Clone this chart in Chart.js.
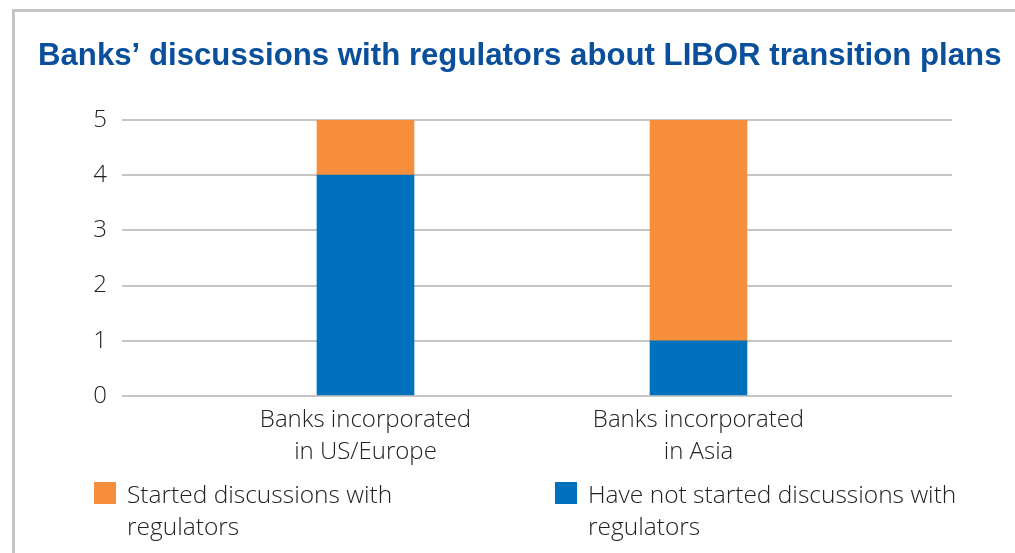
<!DOCTYPE html>
<html>
<head>
<meta charset="utf-8">
<script src="https://cdn.jsdelivr.net/npm/chart.js@4/dist/chart.umd.min.js"></script>
<style>
  html, body { margin: 0; padding: 0; background: #fff; }
  #wrap { position: relative; width: 1015px; height: 553px; overflow: hidden; }
  #frame { position: absolute; left: 12px; top: 9px; right: -20px; bottom: -20px;
           border-top: 3px solid #c4c4c4; border-left: 3px solid #c4c4c4; }
  #c { position: absolute; left: 0; top: 0; }
</style>
</head>
<body>
<div id="wrap">
  <div id="frame"></div>
  <canvas id="c" width="1015" height="553"></canvas>
</div>
<script>
// Chart data
const titleText = 'Banks’ discussions with regulators about LIBOR transition plans';
const categories = [
  ['Banks incorporated', 'in US/Europe'],
  ['Banks incorporated', 'in Asia']
];
const haveNotStarted = [4, 1];
const started = [1, 4];
const seriesNames = [
  ['Have not started discussions with', 'regulators'],
  ['Started discussions with', 'regulators']
];
const yTicks = [0, 1, 2, 3, 4, 5];

const BLUE = '#0071bc';
const ORANGE = '#f68e3b';
const TEXT = '#222222';
const LIGHT_FONT = '"Open Sans"';
const TEXT_SIZE = 24;
const LEGEND_SIZE = 24.5;

// Title and two-line legend drawn on the canvas
const decorations = {
  id: 'decorations',
  afterDraw(chart) {
    const ctx = chart.ctx;
    ctx.save();
    ctx.fillStyle = '#0a4f9c';
    ctx.font = 'bold 31.2px "Liberation Sans", Arial, sans-serif';
    ctx.textBaseline = 'alphabetic';
    ctx.textAlign = 'left';
    ctx.fillText(titleText, 38, 65);

    // legend: started first, then not started
    const order = [1, 0];
    const boxX = [94, 555];
    order.forEach((dsIndex, k) => {
      const ds = chart.data.datasets[dsIndex];
      ctx.fillStyle = ds.backgroundColor;
      ctx.fillRect(boxX[k], 482, 22, 22);
      ctx.fillStyle = TEXT;
      ctx.font = '300 ' + LEGEND_SIZE + 'px ' + LIGHT_FONT + ', sans-serif';
      ds.legendLines.forEach((line, i) => {
        ctx.fillText(line, boxX[k] + 33, 503 + i * 32);
      });
    });
    ctx.restore();
  }
};

new Chart(document.getElementById('c'), {
  type: 'bar',
  data: {
    datasets: [
      {
        label: seriesNames[0].join(' '),
        legendLines: seriesNames[0],
        data: haveNotStarted.map((v, i) => ({ x: i, y: v })),
        backgroundColor: BLUE
      },
      {
        label: seriesNames[1].join(' '),
        legendLines: seriesNames[1],
        data: started.map((v, i) => ({ x: i, y: v })),
        backgroundColor: ORANGE
      }
    ]
  },
  options: {
    responsive: false,
    animation: false,
    events: [],
    barThickness: 97,
    layout: { padding: { left: 0, right: 63, top: 120, bottom: 0 } },
    plugins: {
      legend: { display: false },
      title: { display: false },
      tooltip: { enabled: false }
    },
    scales: {
      x: {
        type: 'linear',
        stacked: true,
        offset: false,
        min: -0.7312,
        max: 1.7613,
        afterBuildTicks: (scale) => { scale.ticks = categories.map((c, i) => ({ value: i })); },
        afterFit: (scale) => { scale.height = 553 - 396; },
        grid: { display: false, drawTicks: false },
        border: { display: false },
        ticks: {
          autoSkip: false,
          maxRotation: 0,
          padding: 8,
          color: TEXT,
          font: { family: LIGHT_FONT, size: TEXT_SIZE, weight: '300', lineHeight: 32 / TEXT_SIZE },
          callback: (v) => categories[v] || ''
        }
      },
      y: {
        stacked: true,
        min: yTicks[0],
        max: yTicks[yTicks.length - 1],
        afterFit: (scale) => { scale.width = 122; },
        afterBuildTicks: (scale) => { scale.ticks = yTicks.map(v => ({ value: v })); },
        grid: { color: '#c6c6c6', lineWidth: 2, drawTicks: false },
        border: { display: false },
        ticks: {
          padding: 15,
          color: TEXT,
          font: { family: LIGHT_FONT, size: TEXT_SIZE, weight: '300' }
        }
      }
    }
  },
  plugins: [decorations]
});
</script>
</body>
</html>
